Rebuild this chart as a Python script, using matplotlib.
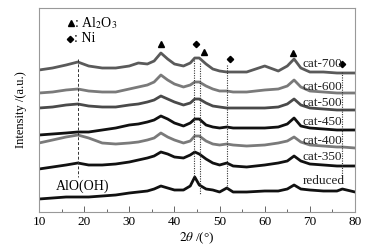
import matplotlib
matplotlib.use("Agg")
import matplotlib.pyplot as plt
from matplotlib.ticker import MultipleLocator

plt.rcParams["font.family"] = ["Liberation Serif", "DejaVu Serif"]
plt.rcParams["mathtext.fontset"] = "stix"

# 2theta sample positions (deg)
two_theta = [10, 13, 16, 18.6, 21, 24, 27, 30, 32, 34, 35.5, 37, 38.5, 40, 42, 43.5,
             44.5, 45.5, 47, 48.5, 50, 51.6, 53, 56, 60, 63, 65, 66.5, 68, 70, 73, 76,
             77.2, 80]

# intensities (arbitrary units, stacked)
cat_700 = [142, 144, 147, 150, 146, 144, 144, 146, 149, 148, 151, 159, 153, 148, 146, 149,
           154, 154, 148, 143, 141, 140, 140, 140, 146, 141, 146, 153, 144, 140, 140, 139,
           139, 139]
cat_600 = [119, 120, 122, 123, 121, 120, 120, 123, 125, 127, 130, 137, 132, 128, 125, 127,
           130, 130, 126, 123, 121, 121, 120, 120, 122, 123, 126, 132, 125, 121, 120, 119,
           119, 119]
cat_500 = [104, 105, 107, 108, 106, 105, 105, 107, 108, 110, 112, 116, 113, 110, 107, 109,
           113, 113, 109, 106, 105, 104, 104, 104, 104, 105, 108, 113, 107, 104, 103, 102,
           102, 102]
cat_450 = [77, 78, 79, 80, 80, 82, 84, 87, 88, 90, 92, 96, 93, 89, 86, 89,
           93, 93, 87, 85, 84, 85, 84, 84, 84, 85, 88, 94, 86, 84, 83, 82,
           82, 82]
cat_400 = [69, 72, 75, 77, 74, 69, 68, 69, 70, 72, 74, 79, 75, 72, 69, 71,
           76, 76, 71, 68, 67, 68, 67, 66, 67, 69, 71, 75, 70, 67, 66, 65,
           65, 64]
cat_350 = [43, 45, 47, 49, 47, 47, 48, 50, 52, 54, 56, 60, 58, 55, 54, 57,
           60, 58, 53, 49, 47, 49, 46, 45, 47, 49, 51, 56, 51, 48, 47, 46,
           46, 46]
reduced = [13, 14, 15, 15, 15, 16, 17, 19, 20, 21, 23, 26, 24, 22, 22, 26,
           35, 27, 23, 22, 20, 24, 20, 20, 21, 21, 23, 27, 23, 22, 21, 21,
           23, 20]

series = [
    ("cat-700", cat_700, "#5a5a5a", 148),
    ("cat-600", cat_600, "#7a7a7a", 125),
    ("cat-500", cat_500, "#4a4a4a", 109),
    ("cat-450", cat_450, "#111111", 90),
    ("cat-400", cat_400, "#7a7a7a", 71),
    ("cat-350", cat_350, "#111111", 55),
    ("reduced", reduced, "#111111", 31),
]

# phase markers: (2theta, height)
al2o3_marks = [(37.0, 168), (46.6, 160), (66.3, 159)]
ni_marks = [(44.7, 168), (52.2, 153), (77.1, 148)]

# reference lines: (2theta, y from, y to)
dashed_lines = [(18.6, 153, 35)]
dotted_lines = [(44.4, 152, 35), (45.6, 149, 17), (51.6, 147, 24), (77.2, 140, 30)]

fig = plt.figure(figsize=(3.78, 2.5), dpi=100)
ax = fig.add_axes([0.1032, 0.152, 0.836, 0.816])

for name, vals, color, ylab in series:
    ax.plot(two_theta, vals, color=color, lw=2.0, solid_joinstyle="round")
    ax.text(68.4, ylab, name, fontsize=9.5, va="center", ha="left", color="#222222")

for x, y0, y1 in dashed_lines:
    ax.plot([x, x], [y0, y1], color="#333333", lw=0.7, ls=(0, (3, 2)))
for x, y0, y1 in dotted_lines:
    ax.plot([x, x], [y0, y1], color="#333333", lw=0.8, ls=(0, (1, 1.2)))

for x, y in al2o3_marks:
    ax.plot(x, y, marker="^", color="black", ms=4, ls="none")
for x, y in ni_marks:
    ax.plot(x, y, marker="D", color="black", ms=3.2, ls="none")

ax.plot(17.0, 189, marker="^", color="black", ms=4, ls="none")
ax.text(17.8, 189, ": Al$_2$O$_3$", fontsize=10, va="center", ha="left")
ax.plot(16.9, 173, marker="D", color="black", ms=3.2, ls="none")
ax.text(17.8, 173, ": Ni", fontsize=10, va="center", ha="left")
ax.text(13.7, 26, "AlO(OH)", fontsize=10, va="center", ha="left")

ax.set_xlim(10, 80)
ax.set_ylim(0, 204)
ax.xaxis.set_major_locator(MultipleLocator(10))
ax.xaxis.set_minor_locator(MultipleLocator(5))
ax.tick_params(axis="x", which="major", direction="in", length=4, width=0.7,
               color="#666666", labelsize=9.5, pad=3)
ax.tick_params(axis="x", which="minor", direction="in", length=2.5, width=0.7,
               color="#666666")
ax.set_yticks([])
for sp in ax.spines.values():
    sp.set_color("#999999")
    sp.set_linewidth(0.8)

ax.set_xlabel(r"$2\theta$ /(°)", fontsize=9.5, labelpad=2)
ax.set_ylabel("Intensity /(a.u.)", fontsize=9, labelpad=9)

fig.savefig("out.png", dpi=100)
